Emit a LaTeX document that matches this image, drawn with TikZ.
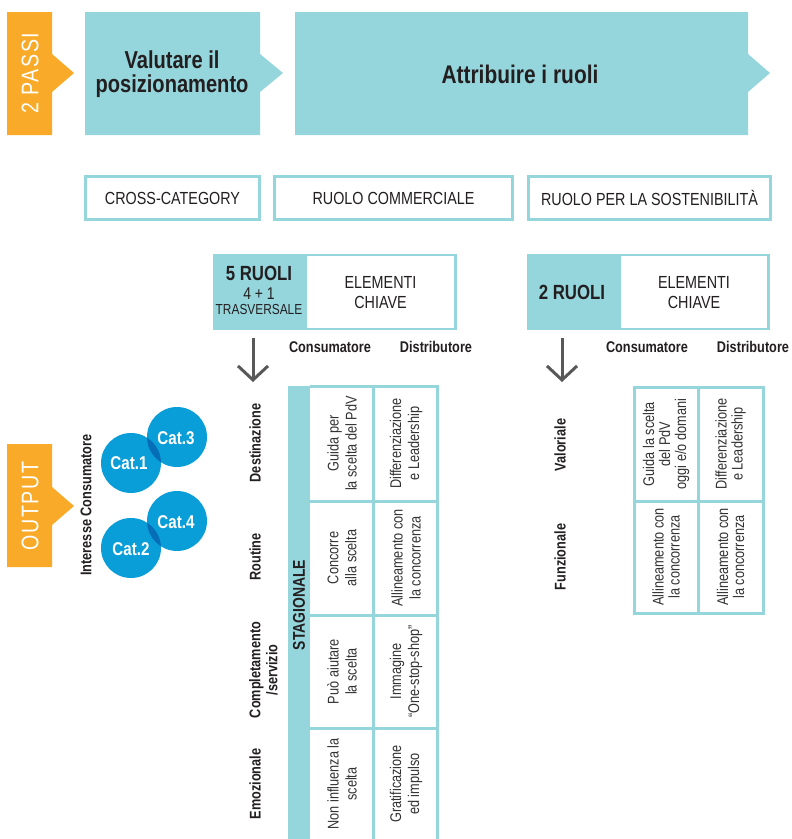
\documentclass[tikz,border=0pt]{standalone}
\usepackage{fontspec}
\setmainfont{Liberation Sans}[FakeStretch=0.82]
\usetikzlibrary{arrows.meta}
\definecolor{tealc}{RGB}{149,213,220}
\definecolor{orangec}{RGB}{248,170,40}
\definecolor{bluec}{RGB}{10,158,217}
\definecolor{bluedark}{RGB}{6,110,182}
\definecolor{txt}{RGB}{35,31,32}
\definecolor{celltxt}{RGB}{50,50,50}
\definecolor{arrowc}{RGB}{88,88,88}
\tikzset{
  every node/.style={inner sep=0pt, text=txt},
  title/.style={font=\bfseries\fontsize{24.5}{23.5}\selectfont, align=center},
  passi/.style={rotate=90, text=white, font=\fontsize{24}{26}\selectfont\addfontfeature{LetterSpace=6}},
  rowbox/.style={draw=tealc, line width=2.6pt, fill=white, font=\fontsize{17.5}{19}\selectfont},
  elbox/.style={draw=tealc, line width=2.6pt, fill=white},
  eltxt/.style={font=\fontsize{17.5}{20}\selectfont, align=center},
  ruoli/.style={font=\bfseries\fontsize{20.5}{22}\selectfont},
  colhead/.style={font=\bfseries\fontsize{15.5}{17}\selectfont},
  rowlab/.style={font=\bfseries\fontsize{15.5}{17}\selectfont, rotate=90, align=center},
  cell/.style={font=\fontsize{15.5}{18}\selectfont, text=celltxt, rotate=90, align=center},
  cellr/.style={font=\fontsize{15.5}{16}\selectfont, text=celltxt, rotate=90, align=center},
  grid/.style={draw=tealc, line width=3pt},
  downarrow/.style={draw=arrowc, line width=3pt, -{Straight Barb[length=14pt, width=30pt, line width=3pt]}},
  cat/.style={text=white, font=\bfseries\fontsize{18.5}{20}\selectfont},
}
\begin{document}
\begin{tikzpicture}[x=1pt, y=-1pt]
\useasboundingbox (0,0) rectangle (792,839);

% ---- top row ----
\fill[orangec] (7,12) -- (52,12) -- (52,54) -- (74,73) -- (52,92) -- (52,135) -- (7,135) -- cycle;
\node[passi] (passi) at (30,73) {2 PASSI};

\fill[tealc] (85,12) -- (260,12) -- (260,54) -- (283,73) -- (260,92) -- (260,135) -- (85,135) -- cycle;
\node[title] (valutare) at (172,74) {Valutare il\\posizionamento};

\fill[tealc] (295,12) -- (748,12) -- (748,54) -- (770,73) -- (748,92) -- (748,135) -- (295,135) -- cycle;
\node[title, font=\bfseries\fontsize{25.5}{26}\selectfont] (attribuire) at (520,74) {Attribuire i ruoli};

% ---- second row ----
\node[rowbox, minimum width=174pt, minimum height=43pt] (cross) at (172.5,198) {CROSS-CATEGORY};
\node[rowbox, minimum width=238pt, minimum height=43pt] (commerciale) at (393.5,198) {RUOLO COMMERCIALE};
\node[rowbox, minimum width=242pt, minimum height=43pt] (sostenibilita) at (649.5,198) {RUOLO PER LA SOSTENIBILITÀ};

% ---- 5 ruoli ----
\node[fill=tealc, minimum width=92pt, minimum height=76pt] (r5box) at (259,292) {};
\node[elbox, minimum width=150pt, minimum height=74pt] (el1) at (380.5,292) {};
\node[ruoli] (r5) at (259,273) {5 RUOLI};
\node[font=\fontsize{17}{18}\selectfont] (r5b) at (259,294) {4 + 1};
\node[font=\fontsize{14.5}{16}\selectfont] (r5c) at (259,310) {TRASVERSALE};
\node[eltxt] (el1t) at (380.5,293) {ELEMENTI\\CHIAVE};
\node[colhead] (cons1) at (330,347) {Consumatore};
\node[colhead] (dist1) at (436,347) {Distributore};

% ---- 2 ruoli ----
\node[fill=tealc, minimum width=92pt, minimum height=76pt] (r2box) at (573,292) {};
\node[elbox, minimum width=149pt, minimum height=74pt] (el2) at (694,292) {};
\node[ruoli] (r2) at (572,292) {2 RUOLI};
\node[eltxt] (el2t) at (694,293) {ELEMENTI\\CHIAVE};
\node[colhead] (cons2) at (647,347) {Consumatore};
\node[colhead] (dist2) at (753,347) {Distributore};

% ---- arrows ----
\coordinate (a1s) at (253,338);
\coordinate (a1e) at (253,382);
\coordinate (a2s) at (562,338);
\coordinate (a2e) at (562,382);
\draw[downarrow] (a1s) -- (a1e);
\draw[downarrow] (a2s) -- (a2e);

% ---- output ----
\fill[orangec] (7,444) -- (52,444) -- (52,487) -- (74,506) -- (52,525) -- (52,567) -- (7,567) -- cycle;
\node[passi] (output) at (30,506) {OUTPUT};
\node[rowlab] (interesse) at (86,505) {Interesse Consumatore};

\fill[bluec] (131,463) circle[radius=30pt];
\fill[bluec] (177,437) circle[radius=30pt];
\fill[bluec] (131,548) circle[radius=30pt];
\fill[bluec] (177,521) circle[radius=30pt];
\begin{scope}
  \clip (131,463) circle[radius=30pt];
  \fill[bluedark] (177,437) circle[radius=30pt];
\end{scope}
\begin{scope}
  \clip (131,548) circle[radius=30pt];
  \fill[bluedark] (177,521) circle[radius=30pt];
\end{scope}
\node[cat] (c1) at (129,463) {Cat.1};
\node[cat] (c3) at (176,438) {Cat.3};
\node[cat] (c4) at (176,522) {Cat.4};
\node[cat] (c2) at (131,549) {Cat.2};

% ---- left table ----
\fill[tealc] (288,386) rectangle (310,839);
\draw[grid] (310,386) -- (437,386);
\draw[grid] (310,501) -- (437,501);
\draw[grid] (310,615) -- (437,615);
\draw[grid] (310,728) -- (437,728);
\draw[grid] (373,386) -- (373,839);
\draw[grid] (437,384.5) -- (437,839);
\node[rowlab, font=\bfseries\fontsize{17}{19}\selectfont] (stag) at (299,605) {STAGIONALE};

\node[rowlab] (dest) at (255,443) {Destinazione};
\node[rowlab] (rout) at (255,557) {Routine};
\node[rowlab] (compl) at (263.5,670) {Completamento\\/servizio};
\node[rowlab] (emoz) at (255,784) {Emozionale};

\node[cell] (l11) at (342,443.5) {Guida per\\la scelta del PdV};
\node[cell] (l12) at (406,443.5) {Differenziazione\\e Leadership};
\node[cell] (l21) at (342,558) {Concorre\\alla scelta};
\node[cell] (l22) at (406,558) {Allineamento con\\la concorrenza};
\node[cell] (l31) at (342,671.5) {Può aiutare\\la scelta};
\node[cell] (l32) at (406,671.5) {Immagine\\“One-stop-shop”};
\node[cell] (l41) at (342,784) {Non influenza la\\scelta};
\node[cell] (l42) at (406,784) {Gratificazione\\ed impulso};

% ---- right table ----
\draw[grid] (634,387) rectangle (763,613);
\draw[grid] (634,501) -- (763,501);
\draw[grid] (698,387) -- (698,613);
\node[rowlab] (valor) at (560,445) {Valoriale};
\node[rowlab] (funz) at (560,557) {Funzionale};
\node[cellr] (r11) at (666,444) {Guida la scelta\\del PdV\\oggi e/o domani};
\node[cellr] (r12) at (730.5,444) {Differenziazione\\e Leadership};
\node[cellr] (r21) at (666,557) {Allineamento con\\la concorrenza};
\node[cellr] (r22) at (730.5,557) {Allineamento con\\la concorrenza};
\end{tikzpicture}
\end{document}
